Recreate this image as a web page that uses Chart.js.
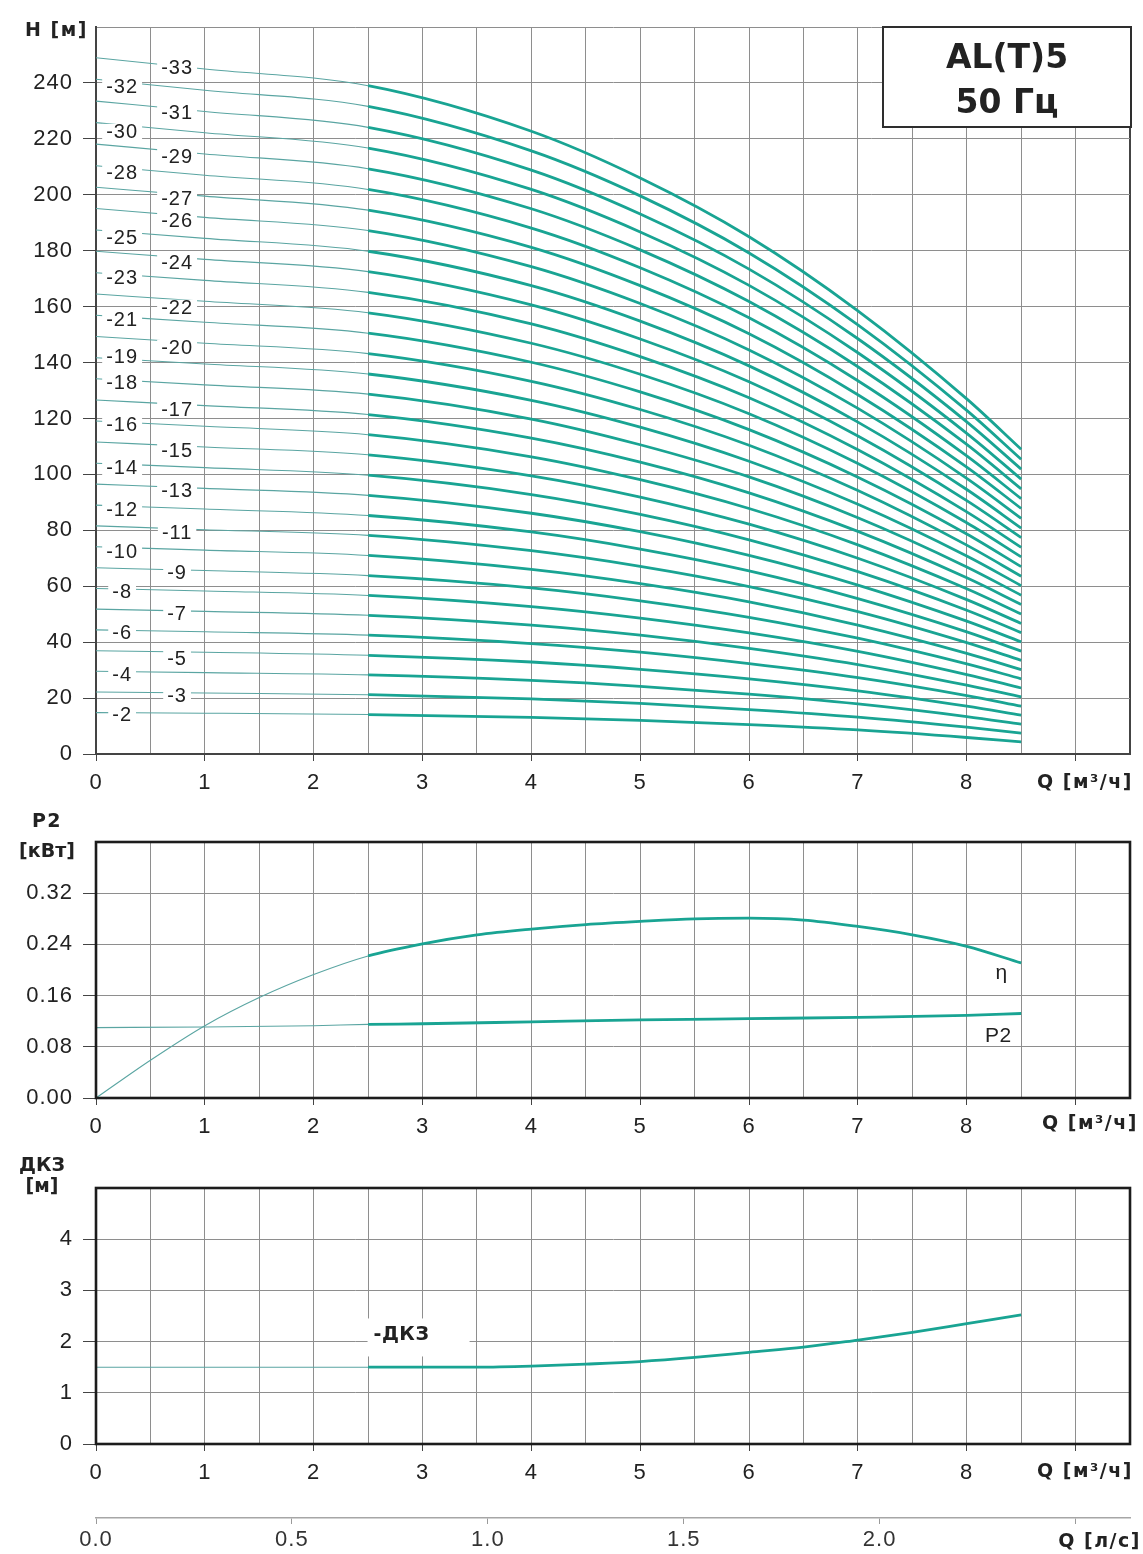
<!DOCTYPE html>
<html lang="ru">
<head>
<meta charset="utf-8">
<title>AL(T)5 50 Гц</title>
<script src="https://cdn.jsdelivr.net/npm/chart.js@4.4.1/dist/chart.umd.min.js"></script>
<style>
  html, body { margin: 0; padding: 0; background: #fff; }
  #sheet { position: relative; width: 1143px; height: 1554px; overflow: hidden; }
  #sheet canvas { position: absolute; left: 0; }
</style>
</head>
<body>
<div id="sheet">
  <canvas id="headChart" width="1143" height="800" style="top:0px"></canvas>
  <canvas id="powerChart" width="1143" height="345" style="top:800px"></canvas>
  <canvas id="npshChart" width="1143" height="409" style="top:1145px"></canvas>
</div>
<script>
// ---- Head curves H(Q), one per stage count -------------------------------
const flowQ = [0, 1, 2.5, 4, 5, 6, 7, 8, 8.5];           // Q [м³/ч]
const head02 = [14.8, 14.6, 14.1, 13.1, 12.0, 10.5, 8.6, 5.9, 4.3];
const head03 = [22.2, 21.8, 21.2, 19.7, 18.1, 15.9, 13.2, 9.6, 7.5];
const head04 = [29.6, 29.1, 28.3, 26.3, 24.2, 21.4, 17.9, 13.4, 10.7];
const head05 = [36.9, 36.4, 35.3, 32.9, 30.3, 26.9, 22.6, 17.1, 13.9];
const head06 = [44.4, 43.7, 42.5, 39.5, 36.4, 32.3, 27.3, 20.9, 17.1];
const head07 = [51.8, 51.0, 49.6, 46.1, 42.5, 37.8, 32.0, 24.6, 20.4];
const head08 = [59.2, 58.3, 56.7, 52.7, 48.6, 43.3, 36.7, 28.4, 23.6];
const head09 = [66.6, 65.6, 63.8, 59.4, 54.8, 48.9, 41.4, 32.2, 26.9];
const head10 = [74.1, 72.9, 71.0, 66.0, 60.9, 54.4, 46.1, 36.0, 30.2];
const head11 = [81.6, 80.2, 78.2, 72.7, 67.1, 59.9, 50.9, 39.8, 33.5];
const head12 = [89.0, 87.6, 85.3, 79.4, 73.3, 65.5, 55.6, 43.7, 36.8];
const head13 = [96.5, 95.0, 92.5, 86.1, 79.5, 71.0, 60.4, 47.5, 40.1];
const head14 = [104.0, 102.4, 99.7, 92.8, 85.7, 76.6, 65.2, 51.4, 43.4];
const head15 = [111.6, 109.8, 107.0, 99.5, 91.9, 82.2, 70.0, 55.2, 46.7];
const head16 = [119.1, 117.2, 114.2, 106.3, 98.1, 87.8, 74.8, 59.1, 50.1];
const head17 = [126.6, 124.6, 121.4, 113.0, 104.4, 93.4, 79.6, 63.0, 53.5];
const head18 = [134.2, 132.0, 128.7, 119.8, 110.6, 99.1, 84.5, 66.9, 56.8];
const head19 = [141.7, 139.5, 135.9, 126.5, 116.9, 104.7, 89.3, 70.8, 60.2];
const head20 = [149.3, 146.9, 143.2, 133.3, 123.2, 110.4, 94.2, 74.7, 63.6];
const head21 = [156.9, 154.4, 150.5, 140.1, 129.5, 116.0, 99.0, 78.7, 67.0];
const head22 = [164.5, 161.9, 157.8, 146.9, 135.8, 121.7, 103.9, 82.7, 70.5];
const head23 = [172.1, 169.4, 165.1, 153.8, 142.1, 127.4, 108.8, 86.6, 73.9];
const head24 = [179.8, 176.9, 172.5, 160.6, 148.4, 133.1, 113.7, 90.6, 77.4];
const head25 = [187.4, 184.4, 179.8, 167.5, 154.8, 138.8, 118.7, 94.6, 80.8];
const head26 = [195.1, 191.9, 187.2, 174.3, 161.1, 144.5, 123.6, 98.6, 84.3];
const head27 = [202.7, 199.5, 194.5, 181.2, 167.5, 150.3, 128.5, 102.6, 87.8];
const head28 = [210.4, 207.0, 201.9, 188.1, 173.9, 156.0, 133.5, 106.6, 91.3];
const head29 = [218.1, 214.6, 209.3, 195.0, 180.3, 161.8, 138.5, 110.7, 94.8];
const head30 = [225.8, 222.2, 216.7, 201.9, 186.7, 167.6, 143.5, 114.7, 98.3];
const head31 = [233.5, 229.8, 224.1, 208.8, 193.1, 173.4, 148.5, 118.8, 101.9];
const head32 = [241.3, 237.4, 231.6, 215.7, 199.6, 179.2, 153.5, 122.9, 105.4];
const head33 = [249.0, 245.0, 239.0, 222.7, 206.0, 185.0, 158.5, 127.0, 109.0];
const stageCounts = [2, 3, 4, 5, 6, 7, 8, 9, 10, 11, 12, 13, 14, 15, 16, 17,
                     18, 19, 20, 21, 22, 23, 24, 25, 26, 27, 28, 29, 30, 31, 32, 33];
const headCurves = [head02, head03, head04, head05, head06, head07, head08, head09,
                    head10, head11, head12, head13, head14, head15, head16, head17,
                    head18, head19, head20, head21, head22, head23, head24, head25,
                    head26, head27, head28, head29, head30, head31, head32, head33];

// Stage labels written next to the curves (two columns)
const stageLabelText = ['-32', '-30', '-28', '-25', '-23', '-21', '-19', '-18',
                        '-16', '-14', '-12', '-10', '-8', '-6', '-4', '-2',
                        '-33', '-31', '-29', '-27', '-26', '-24', '-22', '-20',
                        '-17', '-15', '-13', '-11', '-9', '-7', '-5', '-3'];
const stageLabelQ = [0.24, 0.24, 0.24, 0.24, 0.24, 0.24, 0.24, 0.24,
                     0.24, 0.24, 0.24, 0.24, 0.24, 0.24, 0.24, 0.24,
                     0.745, 0.745, 0.745, 0.745, 0.745, 0.745, 0.745, 0.745,
                     0.745, 0.745, 0.745, 0.745, 0.745, 0.745, 0.745, 0.745];
const stageLabelH = [238.6, 222.5, 207.9, 184.6, 170.3, 155.3, 142.0, 132.7,
                     117.7, 102.3, 87.3, 72.3, 58.0, 43.3, 28.3, 14.0,
                     245.4, 229.3, 213.6, 198.6, 190.7, 175.7, 159.6, 145.3,
                     123.1, 108.4, 94.1, 79.1, 64.8, 50.4, 34.3, 21.1];

// ---- Efficiency η and shaft power P2 ---------------------------------------
const etaQ = [0, 0.5, 1, 1.5, 2, 2.5, 3, 3.5, 4, 4.5, 5, 5.5, 6, 6.5, 7, 7.5, 8, 8.5];
const etaValues = [0, 0.059, 0.113, 0.157, 0.193, 0.222, 0.241, 0.255, 0.264, 0.271,
                   0.276, 0.280, 0.281, 0.278, 0.268, 0.255, 0.237, 0.211];
const p2Q = [0, 1, 2, 2.5, 3, 4, 5, 6, 7, 8, 8.5];
const p2Values = [0.110, 0.111, 0.113, 0.115, 0.116, 0.119, 0.122, 0.124, 0.126, 0.129, 0.132];
const powerLabelText = ['η', 'P2'];
const powerLabelQ = [8.32, 8.29];
const powerLabelY = [0.195, 0.097];

// ---- NPSH (ДКЗ) ------------------------------------------------------------
const npshQ = [0, 2.5, 3, 3.5, 4, 4.5, 5, 5.5, 6, 6.5, 7, 7.5, 8, 8.5];
const npshValues = [1.5, 1.5, 1.5, 1.5, 1.52, 1.56, 1.61, 1.69, 1.79, 1.89, 2.03, 2.18, 2.35, 2.52];
const npshLabelQ = 2.55;
const npshLabelY = 2.12;

// ---- Axis ticks --------------------------------------------------------------
const flowMax = 9.5;          // м³/ч at the right edge
const flowLabelLast = 8;      // last numbered flow tick
const litresPerSecondFactor = 1 / 3.6;
const workStartQ = 2.5;       // recommended working range starts here

// ---- Styles ------------------------------------------------------------------
const TEAL = '#19a493';
const TEAL_THIN = '#5aa5a2';
const GRID = '#8e8e8e';
const EDGE = '#444';
const INK = '#222';
const tickFont = { family: '"Liberation Sans", Arial, sans-serif', size: 22 };
const titleFont = 'bold 19px "DejaVu Sans"';

const isWhole = v => Math.abs(v - Math.round(v)) < 1e-9;
const clear = 'rgba(0,0,0,0)';

const curveSegment = {
  borderColor: c => c.p0.parsed.x < workStartQ ? TEAL_THIN : TEAL,
  borderWidth: c => c.p0.parsed.x < workStartQ ? 1.1 : 2.8
};

function curve(label, xs, ys) {
  return {
    label,
    data: xs.map((q, i) => ({ x: q, y: ys[i] })),
    borderColor: TEAL,
    borderWidth: 2.8,
    pointRadius: 0,
    cubicInterpolationMode: 'monotone',
    segment: curveSegment
  };
}

function flowScale(height) {
  return {
    type: 'linear', position: 'bottom', min: 0, max: flowMax,
    afterFit: s => { s.height = height; },
    ticks: {
      stepSize: 0.5, autoSkip: false, maxRotation: 0, minRotation: 0, padding: 9,
      color: INK, font: tickFont,
      callback: v => (isWhole(v) && v <= flowLabelLast) ? String(v) : ''
    },
    grid: {
      color: c => (c.tick && c.tick.value >= flowMax) ? EDGE : GRID,
      lineWidth: c => (c.tick && c.tick.value >= flowMax) ? 2 : 1,
      tickLength: 7,
      tickColor: c => (c.tick && isWhole(c.tick.value)) ? EDGE : clear
    },
    border: { color: EDGE, width: 2 }
  };
}

function valueScale(min, max, step, lastLabel, fmt) {
  return {
    type: 'linear', min, max,
    afterFit: s => { s.width = 96; },
    ticks: {
      stepSize: step, autoSkip: false, padding: 10, color: INK, font: tickFont,
      callback: v => v <= lastLabel + 1e-9 ? fmt(v) : ''
    },
    grid: {
      color: GRID, lineWidth: 1, tickLength: 13,
      tickColor: c => (c.tick && c.tick.value <= lastLabel + 1e-9) ? EDGE : clear
    },
    border: { color: EDGE, width: 2 }
  };
}

function drawText(ctx, text, x, y, font, align, color, spacing) {
  ctx.save();
  ctx.font = font;
  ctx.textAlign = align || 'left';
  ctx.textBaseline = 'middle';
  ctx.fillStyle = color || INK;
  ctx.letterSpacing = spacing || '1.5px';
  ctx.fillText(text, x, y);
  ctx.restore();
}

const spacingPlugin = {
  id: 'tickSpacing',
  beforeDraw(chart) { chart.ctx.letterSpacing = '1px'; }
};

const framePlugin = {
  id: 'frame',
  afterDatasetsDraw(chart) {
    const { ctx, chartArea: a } = chart;
    ctx.save();
    ctx.strokeStyle = '#1c1c1c';
    ctx.lineWidth = 2.6;
    ctx.strokeRect(a.left, a.top, a.right - a.left, a.bottom - a.top);
    ctx.restore();
  }
};

const baseOptions = {
  responsive: false,
  animation: false,
  events: [],
  plugins: { legend: { display: false }, tooltip: { enabled: false }, title: { display: false } }
};

// ---- Chart 1: H(Q) ------------------------------------------------------------
const headDecor = {
  id: 'headDecor',
  afterDatasetsDraw(chart) {
    const { ctx, chartArea: a, scales: { x, y } } = chart;

    // stage numbers on a white patch that interrupts the curves
    ctx.save();
    ctx.font = '20px "Liberation Sans", Arial, sans-serif';
    ctx.letterSpacing = '1px';
    ctx.textAlign = 'center';
    ctx.textBaseline = 'middle';
    stageLabelText.forEach((t, i) => {
      const px = x.getPixelForValue(stageLabelQ[i]);
      const py = y.getPixelForValue(stageLabelH[i]);
      const w = ctx.measureText(t).width + 8;
      ctx.fillStyle = '#fff';
      ctx.fillRect(px - w / 2, py - 8, w, 16);
      ctx.fillStyle = INK;
      ctx.fillText(t, px, py + 1);
    });
    ctx.restore();

    // model plate in the upper right corner
    const bw = 248, bh = 100;
    const bx = a.right + 1 - bw, by = a.top;
    ctx.save();
    ctx.fillStyle = '#fff';
    ctx.fillRect(bx, by, bw, bh);
    ctx.strokeStyle = '#2e2e2e';
    ctx.lineWidth = 2;
    ctx.strokeRect(bx, by, bw, bh);
    ctx.restore();
    drawText(ctx, 'AL(T)5', bx + bw / 2, by + 32, 'bold 33px "DejaVu Sans"', 'center', '#222', '0px');
    drawText(ctx, '50 Гц', bx + bw / 2, by + 77, 'bold 33px "DejaVu Sans"', 'center', '#222', '0px');

    // axis titles
    drawText(ctx, 'H [м]', 25, a.top + 4, titleFont, 'left');
    drawText(ctx, 'Q [м³/ч]', a.right + 3, a.bottom + 29, titleFont, 'right');
  }
};

new Chart(document.getElementById('headChart'), {
  type: 'line',
  data: { datasets: headCurves.map((vals, i) => curve('-' + stageCounts[i], flowQ, vals)) },
  options: {
    ...baseOptions,
    layout: { padding: { left: 0, right: 13, top: 27, bottom: 0 } },
    scales: {
      x: flowScale(46),
      y: valueScale(0, 260, 20, 240, v => String(v))
    }
  },
  plugins: [spacingPlugin, headDecor]
});

// ---- Chart 2: P2 and η ------------------------------------------------------------
const powerDecor = {
  id: 'powerDecor',
  afterDatasetsDraw(chart) {
    const { ctx, chartArea: a, scales: { x, y } } = chart;
    powerLabelText.forEach((t, i) => {
      drawText(ctx, t, x.getPixelForValue(powerLabelQ[i]), y.getPixelForValue(powerLabelY[i]),
               '21px "Liberation Sans", Arial, sans-serif', 'center', INK, '0.5px');
    });
    drawText(ctx, 'P2', 47, a.top - 20, titleFont, 'center');
    drawText(ctx, '[кВт]', 47, a.top + 10, titleFont, 'center', INK, '0px');
    drawText(ctx, 'Q [м³/ч]', a.right + 8, a.bottom + 26, titleFont, 'right');
  }
};

new Chart(document.getElementById('powerChart'), {
  type: 'line',
  data: { datasets: [curve('η', etaQ, etaValues), curve('P2', p2Q, p2Values)] },
  options: {
    ...baseOptions,
    layout: { padding: { left: 0, right: 13, top: 42, bottom: 0 } },
    scales: {
      x: flowScale(47),
      y: valueScale(0, 0.40, 0.08, 0.32, v => v.toFixed(2))
    }
  },
  plugins: [spacingPlugin, framePlugin, powerDecor]
});

// ---- Chart 3: ДКЗ ------------------------------------------------------------------
const npshDecor = {
  id: 'npshDecor',
  afterDatasetsDraw(chart) {
    const { ctx, chartArea: a, scales: { x, y } } = chart;
    const lx = x.getPixelForValue(npshLabelQ);
    const ly = y.getPixelForValue(npshLabelY);
    ctx.save();
    ctx.fillStyle = '#fff';
    ctx.fillRect(lx - 6, ly - 17, 102, 38);
    ctx.restore();
    drawText(ctx, '-ДКЗ', lx, ly, 'bold 19px "DejaVu Sans"', 'left', INK, '0.5px');
    drawText(ctx, 'ДКЗ', 42, a.top - 22, titleFont, 'center', INK, '0px');
    drawText(ctx, '[м]', 42, a.top - 1, titleFont, 'center', INK, '0px');
    drawText(ctx, 'Q [м³/ч]', a.right + 3, a.bottom + 28, titleFont, 'right');
    drawText(ctx, 'Q [л/с]', a.right + 11, a.bottom + 98, titleFont, 'right');
  }
};

new Chart(document.getElementById('npshChart'), {
  type: 'line',
  data: { datasets: [curve('ДКЗ', npshQ, npshValues)] },
  options: {
    ...baseOptions,
    layout: { padding: { left: 0, right: 13, top: 43, bottom: 0 } },
    scales: {
      x: flowScale(74),
      x2: {
        type: 'linear', position: 'bottom', weight: 1,
        min: 0, max: flowMax * litresPerSecondFactor,
        afterFit: s => { s.height = 36; },
        ticks: {
          stepSize: 0.5, includeBounds: false, autoSkip: false, maxRotation: 0, padding: 3,
          color: '#333', font: tickFont,
          callback: v => v < 2.25 ? v.toFixed(1) : ''
        },
        grid: { drawOnChartArea: false, tickLength: 6, tickColor: '#9a9a9a' },
        border: { color: '#a6a6a6', width: 1.5 }
      },
      y: valueScale(0, 5, 1, 4, v => String(v))
    }
  },
  plugins: [spacingPlugin, framePlugin, npshDecor]
});
</script>
</body>
</html>
